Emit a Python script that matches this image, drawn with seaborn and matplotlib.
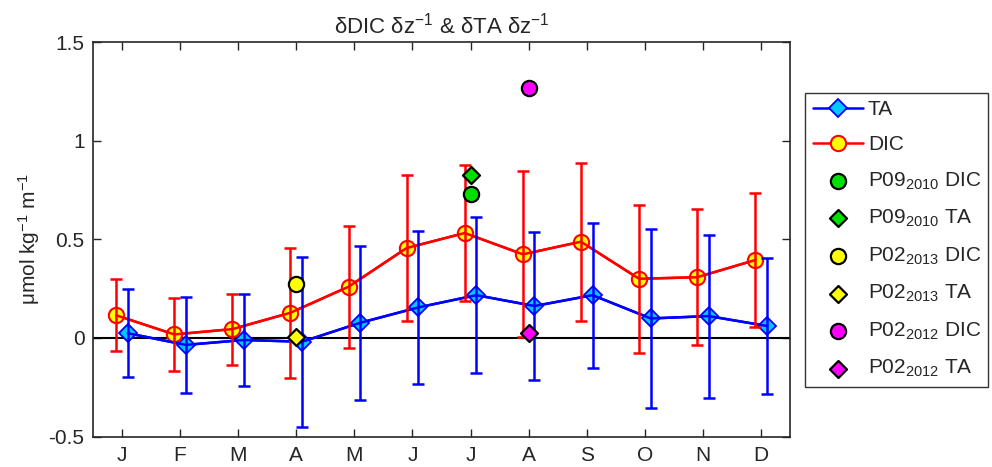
import numpy as np
import pandas as pd
import matplotlib
matplotlib.use("Agg")
import matplotlib.pyplot as plt
import seaborn as sns

# Monatsmittel und Fehler
months = ["J", "F", "M", "A", "M", "J", "J", "A", "S", "O", "N", "D"]
month_num = np.arange(1, 13)

dic_mean = [0.115, 0.018, 0.045, 0.128, 0.26, 0.456, 0.532, 0.424, 0.488, 0.30, 0.308, 0.395]
dic_err = [0.183, 0.187, 0.18, 0.33, 0.31, 0.37, 0.345, 0.42, 0.40, 0.375, 0.345, 0.34]

ta_mean = [0.024, -0.035, -0.01, -0.019, 0.077, 0.155, 0.217, 0.162, 0.217, 0.099, 0.111, 0.061]
ta_err = [0.222, 0.243, 0.235, 0.43, 0.39, 0.388, 0.395, 0.377, 0.368, 0.453, 0.413, 0.343]

# Einzelne Schnitte
stations = ["P09$_{2010}$", "P02$_{2013}$", "P02$_{2012}$"]
station_month = [7, 4, 8]
station_dic = [0.731, 0.273, 1.266]
station_ta = [0.825, 0.007, 0.024]
station_color = ["#00e000", "#ffff00", "#ff00ff"]

sns.set_style("ticks")
plt.rcParams["font.family"] = ["Liberation Sans", "DejaVu Sans"]
plt.rcParams["mathtext.fontset"] = "custom"
plt.rcParams["mathtext.rm"] = "Liberation Sans"
plt.rcParams["mathtext.default"] = "regular"

fig = plt.figure(figsize=(9.92, 4.67), dpi=100)
ax = fig.add_axes([0.0937, 0.065, 0.7028, 0.845])

df = pd.DataFrame({"m": month_num, "dic": dic_mean, "ta": ta_mean})
dx = 0.1

ax.axhline(0, color="black", lw=1.5, zorder=1)

# Linien mit Markern (Marker unten, damit Fehlerbalken durchlaufen)
sns.lineplot(x=df["m"] + dx, y=df["ta"], ax=ax, color="blue", lw=1.8,
             marker="D", markersize=9, markerfacecolor="#00c8ff",
             markeredgecolor="blue", markeredgewidth=1.3, label="TA", zorder=2)
sns.lineplot(x=df["m"] - dx, y=df["dic"], ax=ax, color="red", lw=1.8,
             marker="o", markersize=11, markerfacecolor="#ffff00",
             markeredgecolor="red", markeredgewidth=1.5, label="DIC", zorder=2)
ax.plot(df["m"] + dx, df["ta"], color="blue", lw=1.8, zorder=3)
ax.plot(df["m"] - dx, df["dic"], color="red", lw=1.8, zorder=3)

# Fehlerbalken
ax.errorbar(df["m"] + dx, df["ta"], yerr=ta_err, fmt="none", ecolor="blue",
            elinewidth=1.8, capsize=4.3, capthick=1.8, zorder=4)
ax.errorbar(df["m"] - dx, df["dic"], yerr=dic_err, fmt="none", ecolor="red",
            elinewidth=1.8, capsize=4.3, capthick=1.8, zorder=4)

for name, m, d, t, c in zip(stations, station_month, station_dic, station_ta, station_color):
    sns.scatterplot(x=[m], y=[d], ax=ax, marker="o", s=120, color=c,
                    edgecolor="black", linewidth=1.6, label=name + " DIC", zorder=5)
    sns.scatterplot(x=[m], y=[t], ax=ax, marker="D", s=75, color=c,
                    edgecolor="black", linewidth=1.6, label=name + " TA", zorder=5)

ax.set_xlim(0.5, 12.5)
ax.set_ylim(-0.5, 1.5)
ax.set_xticks(month_num)
ax.set_xticklabels(months)
ax.set_yticks([-0.5, 0, 0.5, 1, 1.5])
ax.set_yticklabels(["-0.5", "0", "0.5", "1", "1.5"])
ax.tick_params(direction="in", top=True, right=True, labelsize=15, length=6, width=1)
ax.tick_params(axis="x", pad=7)
ax.tick_params(axis="y", pad=6)
for s in ax.spines.values():
    s.set_linewidth(1.2)
ax.set_xlabel("")
ax.set_ylabel("μmol kg$^{-1}$ m$^{-1}$", fontsize=15, labelpad=5)
ax.set_title("δDIC δz$^{-1}$ & δTA δz$^{-1}$", fontsize=16, pad=6)

leg = ax.legend(loc="upper left", bbox_to_anchor=(1.022, 0.872), fontsize=15,
                frameon=True, fancybox=False, edgecolor="black",
                handlelength=2.4, handletextpad=0.25, borderpad=0.35,
                labelspacing=0.78, borderaxespad=0)
leg.get_frame().set_linewidth(1.0)

fig.savefig("out.png", dpi=100)
